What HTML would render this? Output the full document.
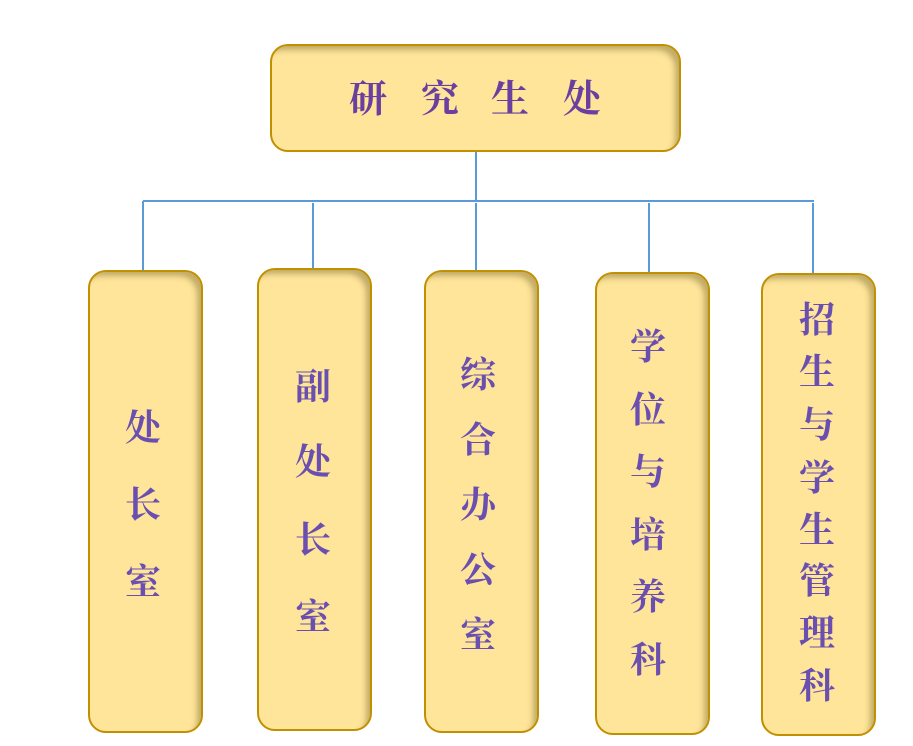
<!DOCTYPE html>
<html><head><meta charset="utf-8"><style>
body{margin:0;width:913px;height:746px;background:#fff;position:relative;overflow:hidden;font-family:"Liberation Serif","Noto Serif CJK SC",serif;}
.b{position:absolute;box-sizing:border-box;background:#fee59a;border:2px solid #c09000;border-radius:18px;box-shadow:inset -6px 6px 6px -2px rgba(120,100,40,0.45);}
.l{position:absolute;background:#5b9bd5;}
.c{position:absolute;width:60px;margin-left:-30px;text-align:center;color:#6a4fb0;font-size:36px;font-weight:bold;line-height:40px;margin-top:-20px;}
.t{position:absolute;color:#6a3fa0;font-size:38px;font-weight:bold;line-height:40px;margin-top:-20px;width:50px;margin-left:-25px;text-align:center;}
</style></head><body>
<div class="l" style="left:475px;top:152px;width:2px;height:50px"></div>
<div class="l" style="left:143px;top:200px;width:671px;height:2px"></div>
<div class="l" style="left:142px;top:201px;width:2px;height:70px"></div>
<div class="l" style="left:312px;top:203px;width:2px;height:66px"></div>
<div class="l" style="left:475px;top:203px;width:2px;height:68px"></div>
<div class="l" style="left:648px;top:203px;width:2px;height:70px"></div>
<div class="l" style="left:812px;top:203px;width:2px;height:71px"></div>

<div class="b" style="left:270px;top:44px;width:411px;height:108px"></div>
<div class="t" style="left:368px;top:100px">研</div>
<div class="t" style="left:440px;top:100px">究</div>
<div class="t" style="left:510px;top:100px">生</div>
<div class="t" style="left:582px;top:100px">处</div>

<div class="b" style="left:88px;top:270px;width:115px;height:463px"></div>
<div class="b" style="left:257px;top:268px;width:115px;height:463px"></div>
<div class="b" style="left:424px;top:270px;width:115px;height:463px"></div>
<div class="b" style="left:595px;top:272px;width:115px;height:463px"></div>
<div class="b" style="left:761px;top:273px;width:115px;height:463px"></div>

<div class="c" style="left:143px;top:428px">处</div>
<div class="c" style="left:143px;top:505px">长</div>
<div class="c" style="left:143px;top:582px">室</div>

<div class="c" style="left:313px;top:387px">副</div>
<div class="c" style="left:313px;top:462px">处</div>
<div class="c" style="left:313px;top:540px">长</div>
<div class="c" style="left:313px;top:617px">室</div>

<div class="c" style="left:478px;top:375px">综</div>
<div class="c" style="left:478px;top:440px">合</div>
<div class="c" style="left:478px;top:505px">办</div>
<div class="c" style="left:478px;top:570px">公</div>
<div class="c" style="left:478px;top:635px">室</div>

<div class="c" style="left:648px;top:347px">学</div>
<div class="c" style="left:648px;top:410px">位</div>
<div class="c" style="left:648px;top:472px">与</div>
<div class="c" style="left:648px;top:535px">培</div>
<div class="c" style="left:648px;top:597px">养</div>
<div class="c" style="left:648px;top:660px">科</div>

<div class="c" style="left:817px;top:320px">招</div>
<div class="c" style="left:817px;top:372px">生</div>
<div class="c" style="left:817px;top:425px">与</div>
<div class="c" style="left:817px;top:478px">学</div>
<div class="c" style="left:817px;top:530px">生</div>
<div class="c" style="left:817px;top:581px">管</div>
<div class="c" style="left:817px;top:633px">理</div>
<div class="c" style="left:817px;top:686px">科</div>
</body></html>
